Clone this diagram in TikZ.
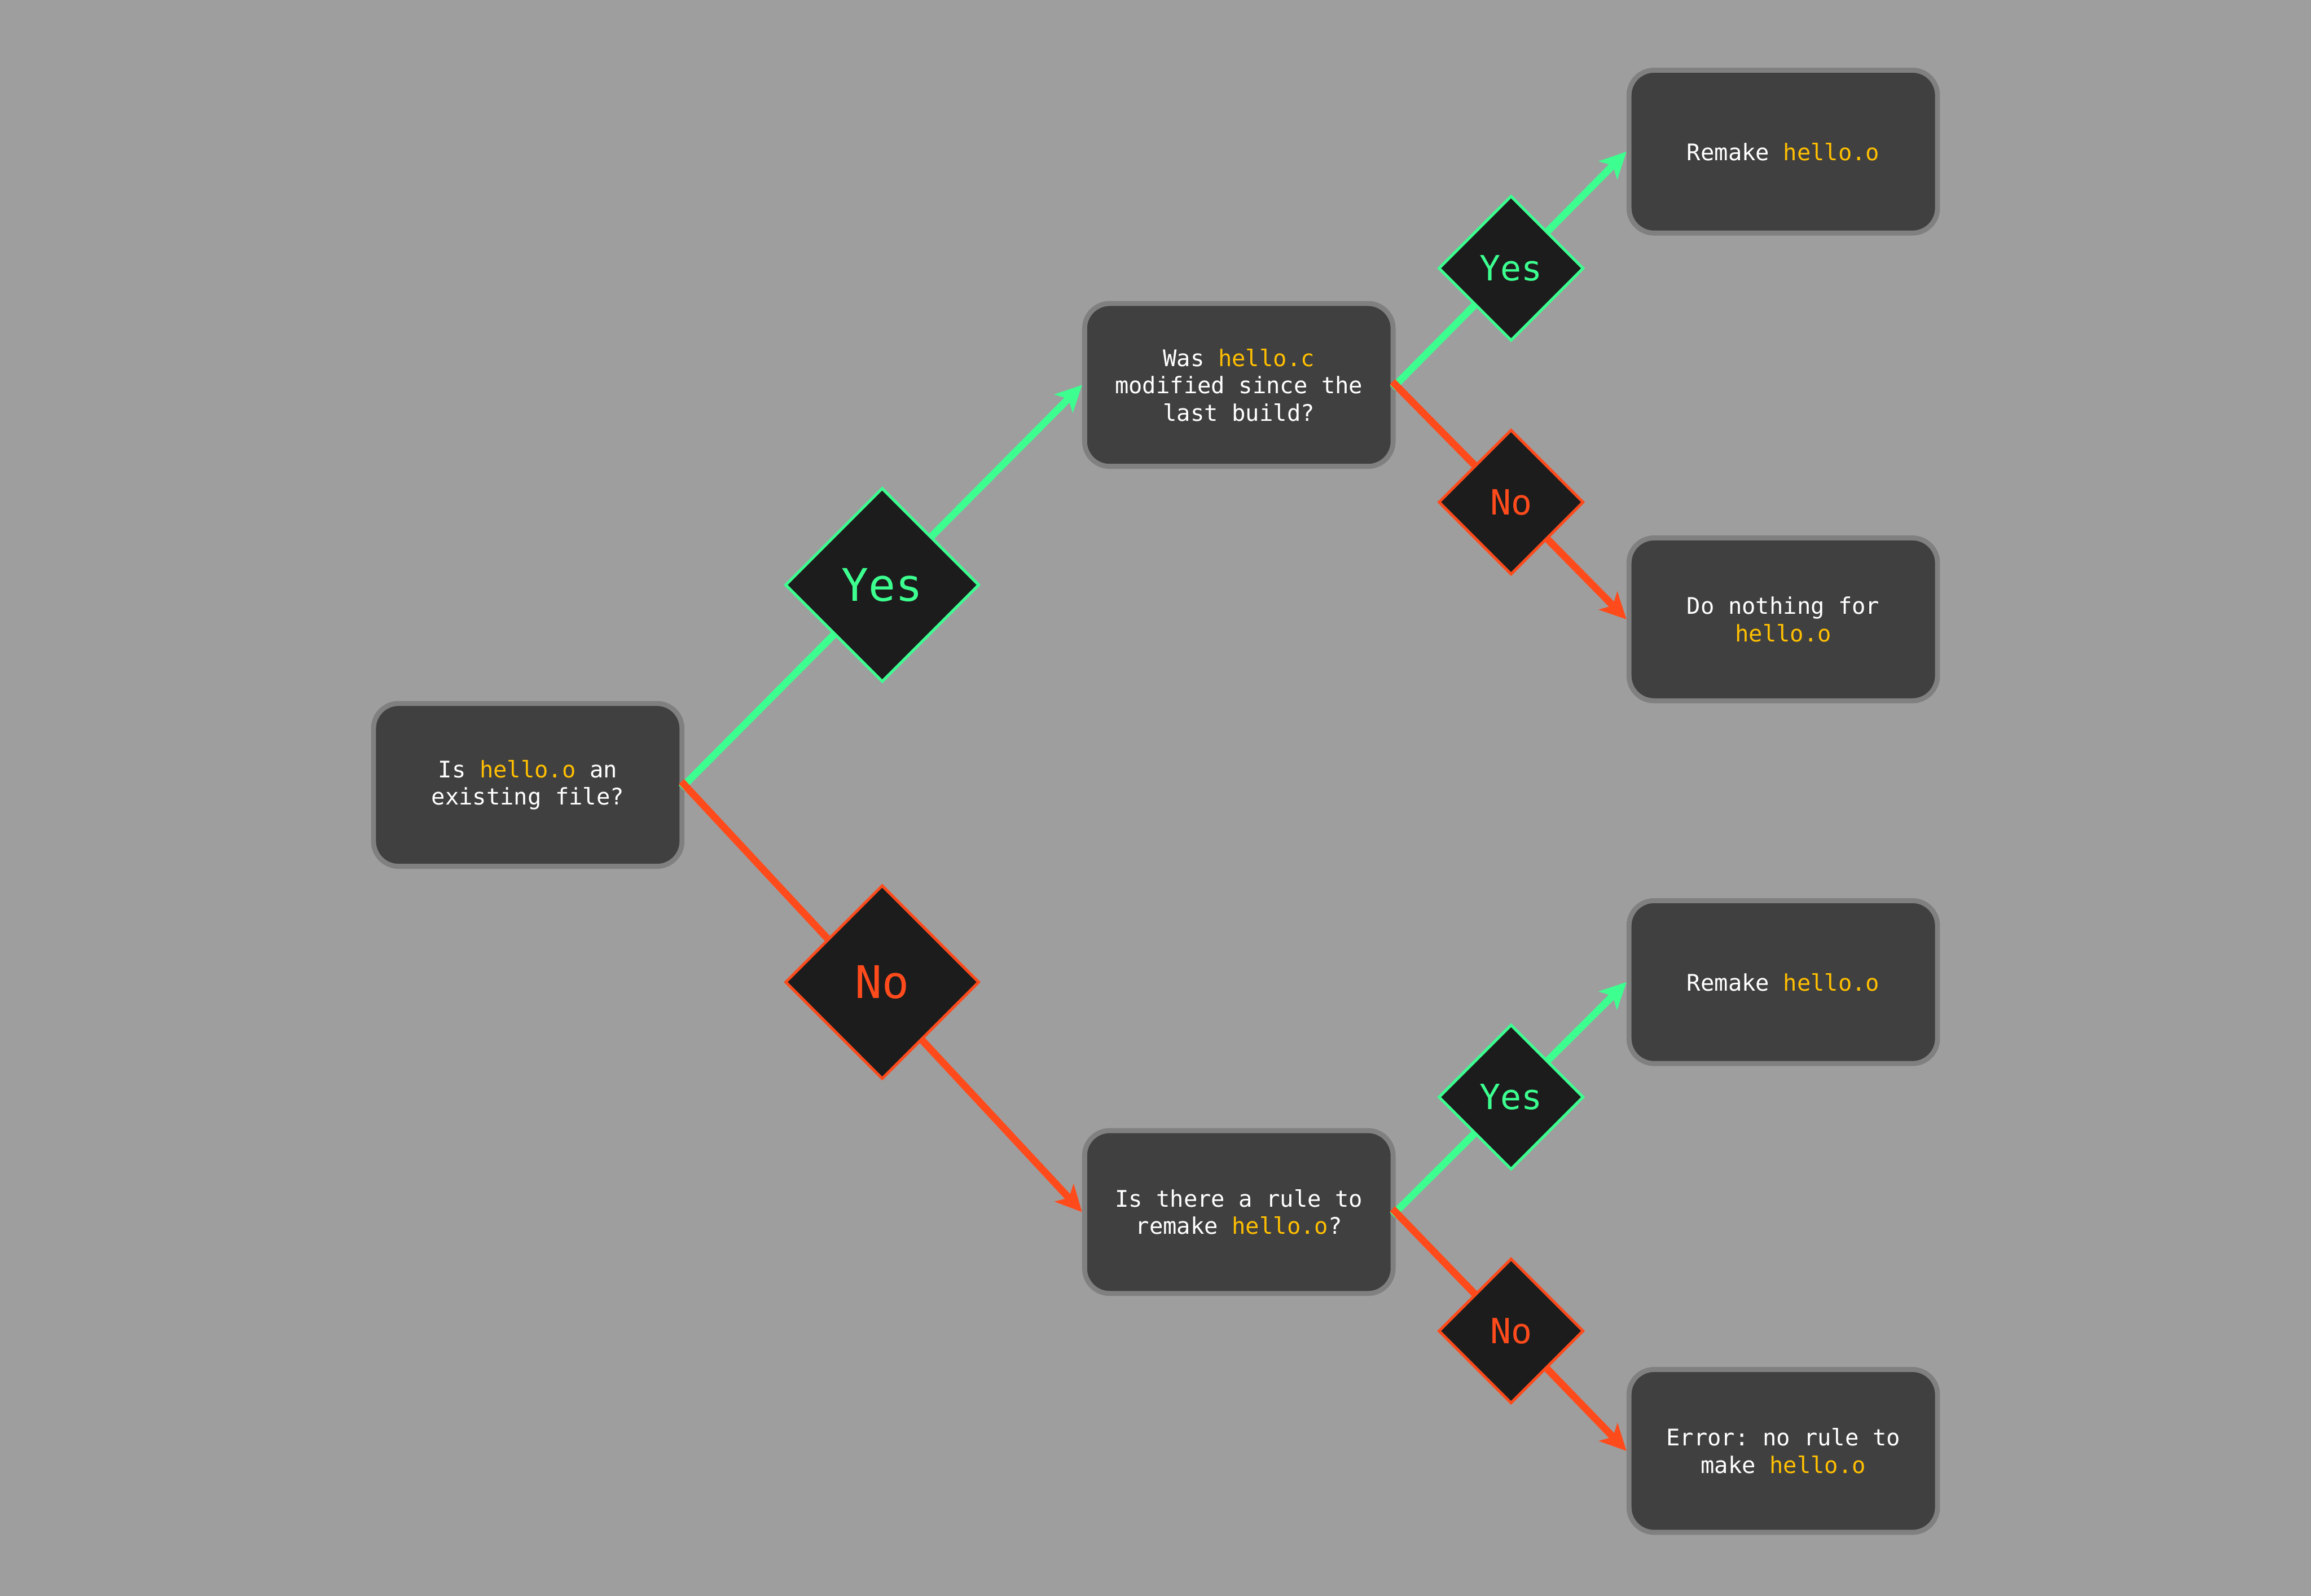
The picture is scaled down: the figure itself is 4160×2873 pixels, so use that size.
\documentclass[tikz,border=0pt]{standalone}
\usepackage{fontspec}
\setmonofont{DejaVu Sans Mono}
\usetikzlibrary{shapes.geometric,arrows.meta}
\definecolor{bg}{HTML}{9E9E9E}
\definecolor{boxfill}{HTML}{404040}
\definecolor{boxline}{HTML}{808080}
\definecolor{dfill}{HTML}{1C1C1C}
\definecolor{ygreen}{HTML}{3CFF90}
\definecolor{nred}{HTML}{FF4B1C}
\definecolor{fname}{HTML}{FFBF00}
\newcommand{\fnm}[1]{\textcolor{fname}{#1}}
\begin{document}
\begin{tikzpicture}[x=0.01cm,y=-0.01cm,
 box/.style={draw=boxline, fill=boxfill, line width=0.09cm, rounded corners=0.45cm,
   minimum width=5.55cm, minimum height=2.93cm, align=center, text=white,
   font=\ttfamily\fontsize{11.7}{14}\selectfont, inner sep=0pt},
 dia/.style={diamond, aspect=1, fill=dfill, line width=0.05cm, inner sep=0pt},
 bigdia/.style={dia, minimum width=3.49cm, minimum height=3.49cm, font=\ttfamily\fontsize{23}{23}\selectfont},
 smalldia/.style={dia, minimum width=2.61cm, minimum height=2.61cm, font=\ttfamily\fontsize{17.8}{17.8}\selectfont},
 yes/.style={draw=ygreen, text=ygreen},
 no/.style={draw=nred, text=nred},
 conn/.style={line width=0.13cm, -{Stealth[length=0.47cm,width=0.46cm,inset=0.12cm]}, shorten <=-0.08cm},
]
\path[use as bounding box, fill=bg] (0,0) rectangle (4160,2873);

\node[box] (q1) at (950,1413) {Is \fnm{hello.o} an\\existing file?};
\node[box] (q2) at (2230,693) {Was \fnm{hello.c}\\modified since the\\last build?};
\node[box] (q3) at (2230,2182) {Is there a rule to\\remake \fnm{hello.o}?};
\node[box] (r1) at (3210,273) {Remake \fnm{hello.o}};
\node[box] (r2) at (3210,1115) {Do nothing for\\\fnm{hello.o}};
\node[box] (r3) at (3210,1768) {Remake \fnm{hello.o}};
\node[box] (r4) at (3210,2612) {Error: no rule to\\make \fnm{hello.o}};

\draw[conn, ygreen] (q1.east) -- (q2.west);
\draw[conn, nred] (q1.east) -- (q3.west);
\draw[conn, ygreen] (q2.east) -- (r1.west);
\draw[conn, nred] (q2.east) -- (r2.west);
\draw[conn, ygreen] (q3.east) -- (r3.west);
\draw[conn, nred] (q3.east) -- (r4.west);

\node[bigdia,yes] (d1) at (1588,1053) {Yes};
\node[bigdia,no] (d2) at (1588,1768) {No};
\node[smalldia,yes] (d3) at (2720,483) {Yes};
\node[smalldia,no] (d4) at (2720,904) {No};
\node[smalldia,yes] (d5) at (2720,1975) {Yes};
\node[smalldia,no] (d6) at (2720,2396) {No};
\end{tikzpicture}
\end{document}
